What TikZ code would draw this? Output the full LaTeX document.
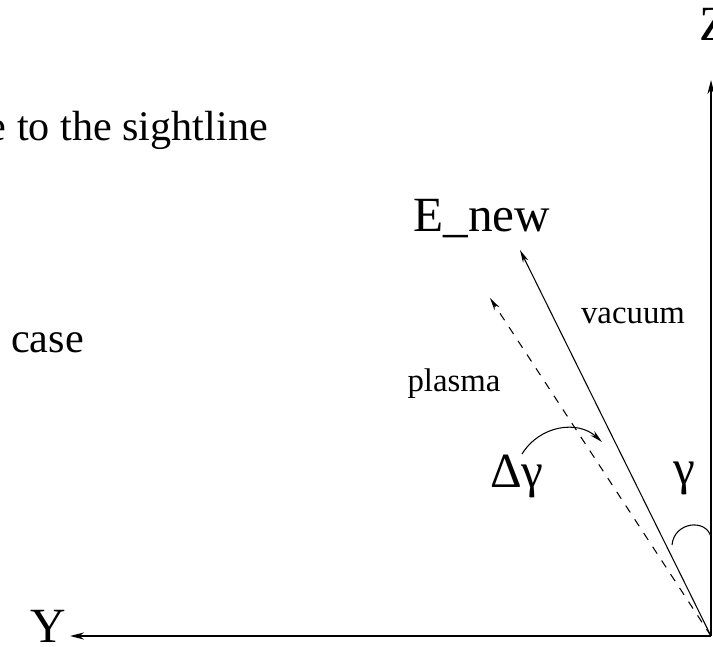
\documentclass[tikz,border=0pt]{standalone}
\usepackage{fontspec}
\setmainfont{Liberation Serif}
\usetikzlibrary{arrows.meta}
\begin{document}
\begin{tikzpicture}[x=0.3mm,y=-0.3mm,
  axis/.style={line width=1.5pt,-{Stealth[length=12pt,width=6pt]}},
  vec/.style={line width=0.9pt,-{Stealth[length=11pt,width=5pt]}},
  big/.style={font=\fontsize{36}{40}\selectfont,inner sep=0pt},
  sym/.style={font=\fontsize{42}{46}\selectfont,inner sep=0pt},
  small/.style={font=\fontsize{28}{32}\selectfont,inner sep=0pt}]
\useasboundingbox (0,0) rectangle (713,647);
%\draw[step=50,help lines](0,0)grid(713,647);
% text cut off at the left
\node[big,anchor=base east] (sight) at (268,141) {e to the sightline};
\node[big,anchor=base west] (case) at (11,352) {case};
% axes
\coordinate (O) at (711,636);
\coordinate (ytip) at (70,636);
\coordinate (ztip) at (711,80);
\draw[axis] (O)--(ytip); \node[sym] (ylab) at (48,626) {Y};
\draw[axis] (O)--(ztip); \node[sym] (zlab) at (715,24) {Z};
% field vectors
\coordinate (vac) at (520,250);
\coordinate (pla) at (490,298);
\draw[vec] (O)--(vac);
\draw[vec,dash pattern=on 7pt off 7pt] (O)--(pla);
\node[sym] (enew) at (482,219) {E\_new};
\node[small] (vaclab) at (633,316) {vacuum};
\node[small] (plalab) at (454,384) {plasma};
% angles
\coordinate (g1) at (672,545);
\coordinate (g2) at (711,537);
\draw[line width=0.9pt] (g1) .. controls (674,522) and (706,518) .. (g2);
\node[sym] (gam) at (684,478) {γ};
\coordinate (d1) at (522,454);
\coordinate (d2) at (602,442);
\draw[vec] (d1) .. controls (540,425) and (578,420) .. (d2);
\node[sym] (dgam) at (517,476) {Δγ};
\end{tikzpicture}
\end{document}
